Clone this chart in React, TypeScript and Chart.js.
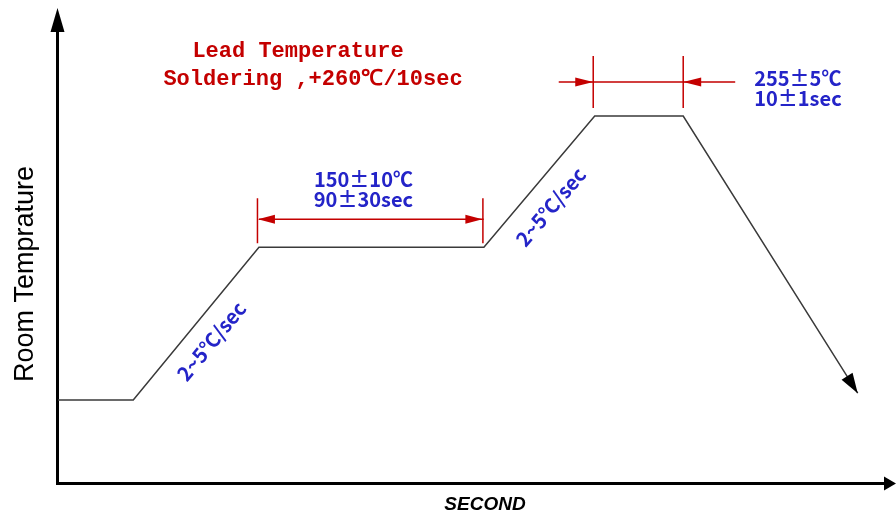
import React, { useEffect, useRef } from 'react';
import { Chart, registerables } from 'chart.js';

Chart.register(...registerables);

// Profile: time (arbitrary units 0..100) vs temperature (arbitrary units 0..100)
const timeUnits = [0, 9.1, 24.3, 51.5, 64.9, 75.6, 96.7];
const tempUnits = [18.6, 18.6, 52.4, 52.4, 81.4, 81.4, 20.1];

const titleLines = ['Lead Temperature', 'Soldering ,+260℃/10sec'];
const soakLabels = ['150±10℃', '90±30sec'];
const peakLabels = ['255±5℃', '10±1sec'];
const rampLabel = '2~5℃/sec';
const yTitle = 'Room Temprature';
const xTitle = 'SECOND';

const RED = '#c40000';
const BLUE = '#2424c8';
const LINE = '#3a3a3a';
const BLUE_FONT = 'bold 20px "Noto Sans CJK SC", "Noto Sans", sans-serif';

function arrowHead(ctx: CanvasRenderingContext2D, tipX: number, tipY: number, fromX: number, fromY: number, len: number, half: number, color: string) {
  const ang = Math.atan2(tipY - fromY, tipX - fromX);
  ctx.save();
  ctx.translate(tipX, tipY);
  ctx.rotate(ang);
  ctx.beginPath();
  ctx.moveTo(0, 0);
  ctx.lineTo(-len, -half);
  ctx.lineTo(-len, half);
  ctx.closePath();
  ctx.fillStyle = color;
  ctx.fill();
  ctx.restore();
}

const axesPlugin = {
  id: 'axesPlugin',
  beforeDatasetsDraw(chart: any) {
    const ctx: CanvasRenderingContext2D = chart.ctx;
    const ca = chart.chartArea;
    ctx.save();
    ctx.strokeStyle = '#000';
    ctx.lineWidth = 3;
    const ax = ca.left - 0.5;
    const ay = ca.bottom - 0.5;
    ctx.beginPath();
    ctx.moveTo(ax, ay + 1.5);
    ctx.lineTo(ax, 26);
    ctx.stroke();
    ctx.beginPath();
    ctx.moveTo(ax - 1.5, ay);
    ctx.lineTo(888, ay);
    ctx.stroke();
    arrowHead(ctx, ax, 8, ax, 40, 24, 7, '#000');
    arrowHead(ctx, 896, ay, 800, ay, 12, 7, '#000');

    // axis titles
    ctx.fillStyle = '#000';
    ctx.font = '27px "Liberation Sans", Arial, sans-serif';
    ctx.textAlign = 'center';
    ctx.textBaseline = 'alphabetic';
    ctx.save();
    ctx.translate(33, 274);
    ctx.rotate(-Math.PI / 2);
    ctx.fillText(yTitle, 0, 0);
    ctx.restore();
    ctx.font = 'italic bold 19px "Liberation Sans", Arial, sans-serif';
    ctx.fillText(xTitle, 485, 510);
    ctx.restore();
  },
};

const annotPlugin = {
  id: 'annotPlugin',
  afterDatasetsDraw(chart: any) {
    const ctx: CanvasRenderingContext2D = chart.ctx;
    const xs = chart.scales.x;
    const ys = chart.scales.y;
    const px = (i: number) => xs.getPixelForValue(timeUnits[i]);
    const py = (i: number) => ys.getPixelForValue(tempUnits[i]);
    ctx.save();

    // arrowhead at end of profile
    const n = timeUnits.length - 1;
    arrowHead(ctx, px(n), py(n), px(n - 1), py(n - 1), 20, 6.5, '#000');

    // soak dimension
    ctx.strokeStyle = RED;
    ctx.lineWidth = 1.5;
    {
      const x1 = px(2), x2 = px(3), yp = py(2);
      ctx.beginPath();
      ctx.moveTo(x1 - 1.5, yp - 49); ctx.lineTo(x1 - 1.5, yp - 4);
      ctx.moveTo(x2 - 1, yp - 49); ctx.lineTo(x2 - 1, yp - 4);
      ctx.moveTo(x1, yp - 28); ctx.lineTo(x2, yp - 28);
      ctx.stroke();
      arrowHead(ctx, x1 - 1, yp - 28, x2, yp - 28, 17, 4.5, RED);
      arrowHead(ctx, x2 - 1.5, yp - 28, x1, yp - 28, 17, 4.5, RED);
      ctx.fillStyle = BLUE;
      ctx.font = BLUE_FONT;
      ctx.textAlign = 'center';
      ctx.textBaseline = 'alphabetic';
      const cx = (x1 + x2) / 2 - 8;
      ctx.fillText(soakLabels[0], cx, yp - 60);
      ctx.fillText(soakLabels[1], cx, yp - 40);
    }
    // peak dimension
    {
      const x1 = px(4), x2 = px(5), yp = py(4);
      ctx.beginPath();
      ctx.moveTo(x1 - 1.5, yp - 60); ctx.lineTo(x1 - 1.5, yp - 8);
      ctx.moveTo(x2, yp - 60); ctx.lineTo(x2, yp - 8);
      ctx.moveTo(x1 - 36, yp - 34); ctx.lineTo(x2 + 52, yp - 34);
      ctx.stroke();
      arrowHead(ctx, x1 - 1.5, yp - 34, x1 - 40, yp - 34, 18, 4.5, RED);
      arrowHead(ctx, x2, yp - 34, x2 + 40, yp - 34, 18, 4.5, RED);
      ctx.fillStyle = BLUE;
      ctx.font = BLUE_FONT;
      ctx.textAlign = 'left';
      ctx.fillText(peakLabels[0], x2 + 71, yp - 30);
      ctx.fillText(peakLabels[1], x2 + 71, yp - 10);
    }
    // ramp labels
    const ramp = (a: number, b: number, ox: number, oy: number) => {
      const x1 = px(a), y1 = py(a), x2 = px(b), y2 = py(b);
      const ang = Math.atan2(y2 - y1, x2 - x1);
      ctx.save();
      ctx.translate((x1 + x2) / 2, (y1 + y2) / 2);
      ctx.rotate(ang);
      ctx.fillStyle = BLUE;
      ctx.font = BLUE_FONT;
      ctx.textAlign = 'center';
      ctx.textBaseline = 'middle';
      ctx.fillText(rampLabel, ox, oy);
      ctx.restore();
    };
    ramp(1, 2, -4, 23);
    ramp(3, 4, -12, 25);

    // title
    ctx.fillStyle = RED;
    ctx.font = 'bold 22px "Liberation Mono", "Courier New", monospace';
    ctx.textAlign = 'center';
    ctx.textBaseline = 'alphabetic';
    ctx.fillText(titleLines[0], 298, 57);
    ctx.fillText(titleLines[1], 313, 85);
    ctx.restore();
  },
};

export default function App() {
  const ref = useRef<HTMLCanvasElement | null>(null);
  useEffect(() => {
    if (!ref.current) return;
    const chart = new Chart(ref.current, {
      type: 'line',
      data: {
        datasets: [
          {
            data: timeUnits.map((t, i) => ({ x: t, y: tempUnits[i] })),
            borderColor: LINE,
            borderWidth: 1.5,
            pointRadius: 0,
            tension: 0,
            fill: false,
          },
        ],
      },
      options: {
        animation: false,
        responsive: false,
        layout: { padding: { left: 58, top: 32, right: 11, bottom: 32 } },
        plugins: { legend: { display: false }, tooltip: { enabled: false } },
        scales: {
          x: { type: 'linear', min: 0, max: 100, display: false },
          y: { type: 'linear', min: 0, max: 100, display: false },
        },
      },
      plugins: [axesPlugin, annotPlugin],
    });
    return () => chart.destroy();
  }, []);
  return (
    <div style={{ position: 'absolute', left: 0, top: 0, width: 896, height: 516, background: '#fff' }}>
      <canvas ref={ref} width={896} height={516} style={{ width: 896, height: 516, display: 'block' }} />
    </div>
  );
}
